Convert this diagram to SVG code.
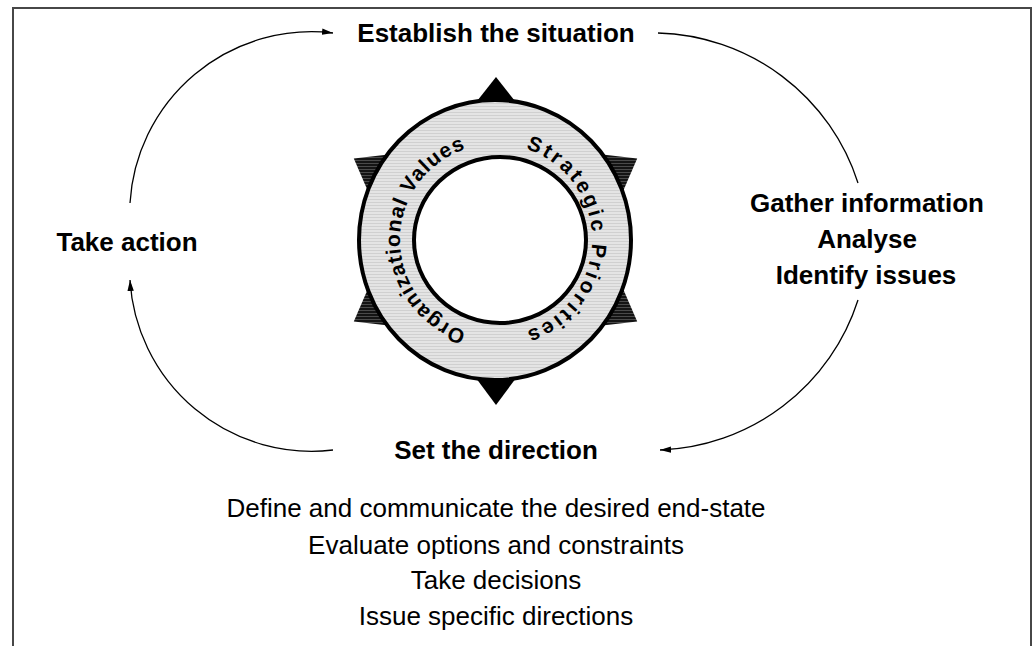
<svg xmlns="http://www.w3.org/2000/svg" xmlns:xlink="http://www.w3.org/1999/xlink" width="1034" height="646" viewBox="0 0 1034 646">
  <style>
    .bold { font-family: "Liberation Sans", Arial, sans-serif; font-weight: bold; font-size: 26px; fill: #000; text-anchor: middle; }
    .plain { font-family: "Liberation Sans", Arial, sans-serif; font-size: 26px; fill: #000; text-anchor: middle; }
    .ring-text { font-family: "Liberation Sans", Arial, sans-serif; font-weight: bold; font-size: 21px; fill: #000; }
    .conn { fill: none; stroke: #000; stroke-width: 1.3; }
  </style>
  <defs>
    <!-- brushed metal look for the ring -->
    <pattern id="brushed" width="40" height="3" patternUnits="userSpaceOnUse">
      <rect width="40" height="3" fill="#e4e4e4"/>
      <rect y="1" width="40" height="1" fill="#d0d0d0"/>
    </pattern>
    <pattern id="darkBrushed" width="40" height="3" patternUnits="userSpaceOnUse">
      <rect width="40" height="3" fill="#141414"/>
      <rect y="1" width="40" height="1" fill="#4a4a4a"/>
    </pattern>
    <marker id="arrow" markerWidth="12" markerHeight="8" refX="11" refY="4" orient="auto" markerUnits="userSpaceOnUse">
      <path d="M0,0.8 L11,4 L0,7.2 Z" fill="#000"/>
    </marker>
    <path id="leftArc" d="M466.3,331.3 A96,96 0 0 1 466.3,148.7"/>
    <path id="rightArc" d="M525.7,148.7 A96,96 0 0 1 525.7,331.3"/>
  </defs>

  <!-- frame -->
  <rect x="13" y="8" width="1018" height="700" fill="#fff" stroke="#474747" stroke-width="2"/>

  <!-- cycle connectors -->
  <g id="connectors">
    <path class="conn" d="M130,203 A182,182 0 0 1 333,33" marker-end="url(#arrow)"/>
    <path class="conn" d="M658,33 A216,216 0 0 1 858,183"/>
    <path class="conn" d="M858,300 A216,216 0 0 1 660,450" marker-end="url(#arrow)"/>
    <path class="conn" d="M333,450 A182,182 0 0 1 130,280" marker-end="url(#arrow)"/>
  </g>

  <!-- central compass ring -->
  <g id="ring">
    <polygon points="496,77 470,110 522,110" fill="#000"/>
    <polygon points="496,405 470,370 522,370" fill="#000"/>
    <polygon points="353.8,158.5 397.1,153.5 371.1,198.5" fill="url(#darkBrushed)"/>
    <polygon points="353.8,321.5 397.1,326.5 371.1,281.5" fill="url(#darkBrushed)"/>
    <polygon points="637.2,158.5 593.9,153.5 619.9,198.5" fill="url(#darkBrushed)"/>
    <polygon points="637.2,321.5 593.9,326.5 619.9,281.5" fill="url(#darkBrushed)"/>
    <path d="M359,240 A136,140 0 1 0 631,240 A136,140 0 1 0 359,240 Z M414,240 A86,83 0 1 1 586,240 A86,83 0 1 1 414,240 Z" fill="url(#brushed)" fill-rule="evenodd"/>
    <ellipse cx="495" cy="240" rx="136" ry="140" fill="none" stroke="#000" stroke-width="4"/>
    <ellipse cx="500" cy="240" rx="86" ry="83" fill="#fff" stroke="#000" stroke-width="4"/>
    <text class="ring-text"><textPath xlink:href="#leftArc" textLength="240" lengthAdjust="spacing">Organizational Values</textPath></text>
    <text class="ring-text"><textPath xlink:href="#rightArc" textLength="240" lengthAdjust="spacing">Strategic Priorities</textPath></text>
  </g>

  <g id="node-establish">
    <text class="bold" x="496" y="42">Establish the situation</text>
  </g>
  <g id="node-gather">
    <text class="bold" x="867" y="212">Gather information</text>
    <text class="bold" x="867" y="248">Analyse</text>
    <text class="bold" x="866" y="284">Identify issues</text>
  </g>
  <g id="node-direction">
    <text class="bold" x="496" y="459">Set the direction</text>
    <text class="plain" x="496" y="517">Define and communicate the desired end-state</text>
    <text class="plain" x="496" y="554">Evaluate options and constraints</text>
    <text class="plain" x="496" y="589">Take decisions</text>
    <text class="plain" x="496" y="625">Issue specific directions</text>
  </g>
  <g id="node-action">
    <text class="bold" x="127" y="251">Take action</text>
  </g>
</svg>
